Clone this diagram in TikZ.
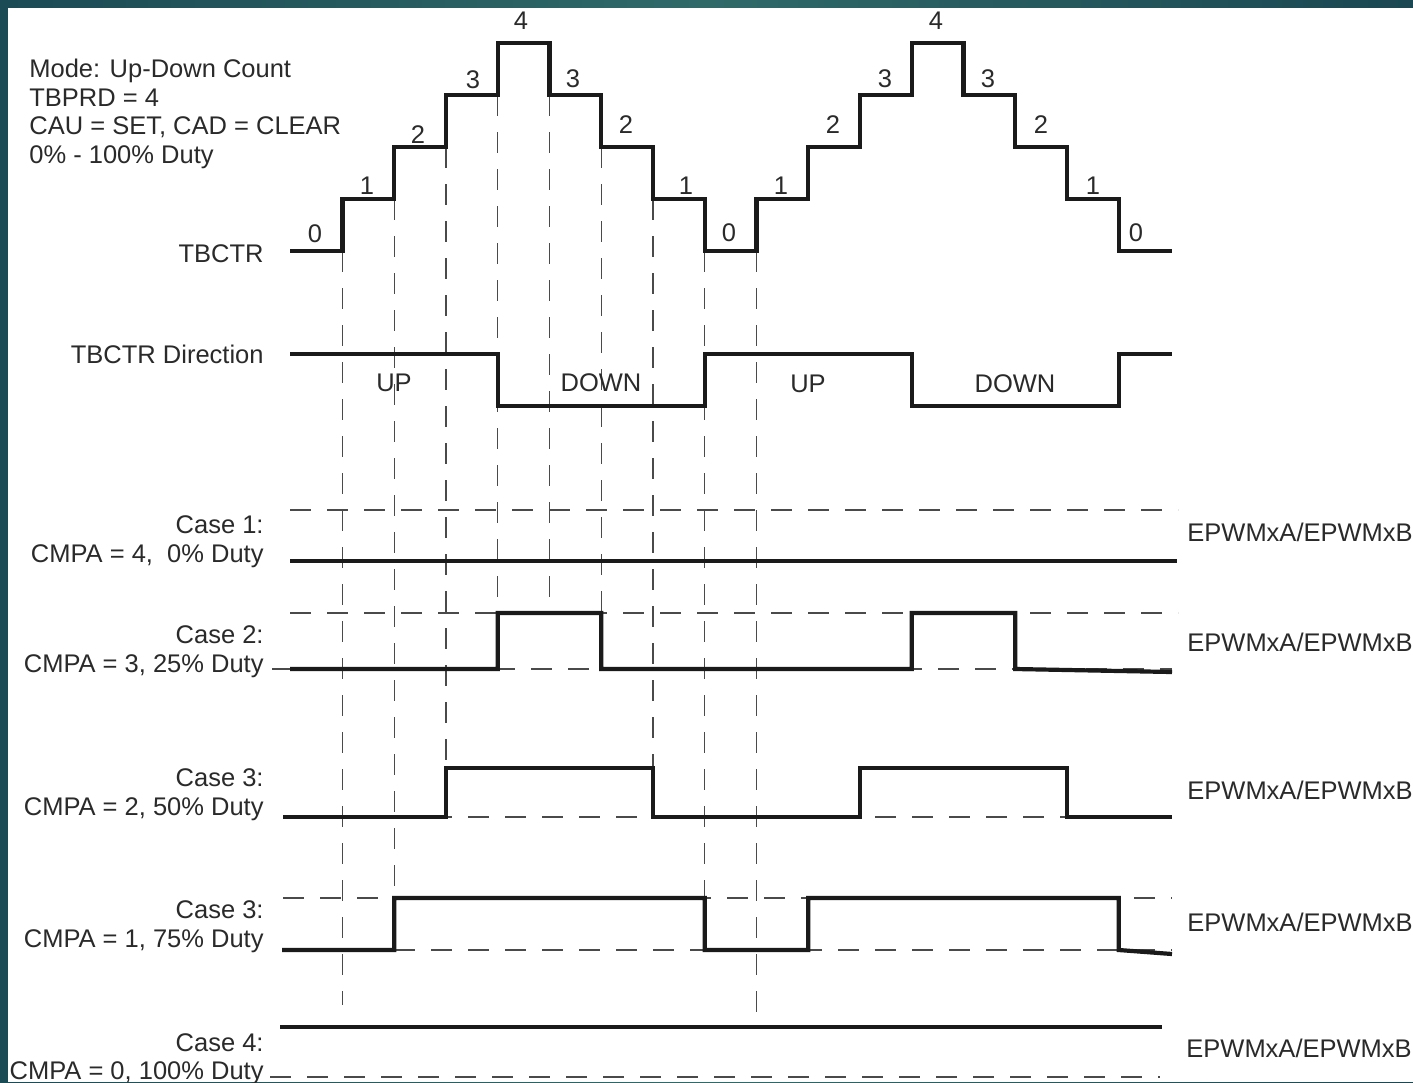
\documentclass[tikz,border=0pt]{standalone}
\usepackage{fontspec}
\setmainfont{Liberation Sans}
\definecolor{ink}{HTML}{1A1A1A}
\definecolor{txt}{HTML}{2A2A2A}
\definecolor{guidegray}{HTML}{4A4A4A}
\definecolor{tealA}{HTML}{1B4B55}
\definecolor{tealB}{HTML}{2F6A69}
\definecolor{tealC}{HTML}{1A4752}
\begin{document}
\begin{tikzpicture}[x=0.5pt,y=-0.5pt,
  wave/.style={line width=2.1pt, draw=ink, line join=miter},
  guide/.style={line width=0.7pt, draw=guidegray, dash pattern=on 10.5pt off 8pt},
  lbl/.style={inner sep=0pt, text=txt, font=\fontsize{12.75pt}{15pt}\selectfont},
  num/.style={lbl, anchor=center},
  rlbl/.style={lbl, anchor=base east},
  llbl/.style={lbl, anchor=base west},
]
\useasboundingbox (0,0) rectangle (1413,1082);
\clip (0,0) rectangle (1413,1082);
\shade[left color=tealA, right color=tealC, middle color=tealB] (0,0) rectangle (1413,1082);
\fill[white] (8,8) rectangle (1413,1082);

% header text
\node[llbl] (mode)  at (29,77)  {Mode: Up-Down Count};
\node[llbl] (prd)   at (29,106) {TBPRD = 4};
\node[llbl] (act)   at (29,134) {CAU = SET, CAD = CLEAR};
\node[llbl] (duty)  at (29,163) {0\% - 100\% Duty};

% vertical guide lines
\draw[guide] (342.5,251) -- (342.5,1005);
\draw[guide] (394.25,199) -- (394.25,898);
\draw[guide] (446,147) -- (446,768);
\draw[guide] (497.75,95) -- (497.75,613);
\draw[guide] (549.5,95) -- (549.5,613);
\draw[guide] (601.25,147) -- (601.25,613);
\draw[guide] (653,199) -- (653,768);
\draw[guide] (704.75,251) -- (704.75,898);
\draw[guide] (756.5,251) -- (756.5,1027);

% horizontal guide lines
\draw[guide] (290,510) -- (1178,510);
\draw[guide] (290,613) -- (1178,613);
\draw[guide] (272,669) -- (1172,669);
\draw[guide] (283,817) -- (1172,817);
\draw[guide] (283,898) -- (1172,898);
\draw[guide] (283,950) -- (1172,950);
\draw[guide] (270,1077) -- (1160,1077);

% TBCTR
\node[rlbl] (tbctr) at (264,262) {TBCTR};
\draw[wave] (290,251) -| (342.5,199) -| (394.25,147) -| (446,95) -| (497.75,43)
  -| (549.5,95) -| (601.25,147) -| (653,199) -| (704.75,251)
  -| (756.5,199) -| (808.25,147) -| (860,95) -| (911.75,43)
  -| (963.5,95) -| (1015.25,147) -| (1067,199) -| (1118.75,251) -- (1172,251);
\node[num] (n0)  at (315,234) {0};
\node[num] (n1)  at (367,186) {1};
\node[num] (n2)  at (418,135) {2};
\node[num] (n3)  at (473,80)  {3};
\node[num] (n4)  at (521,21)  {4};
\node[num] (n5)  at (573,79)  {3};
\node[num] (n6)  at (626,125) {2};
\node[num] (n7)  at (686,186) {1};
\node[num] (n8)  at (729,233) {0};
\node[num] (n9)  at (781,186) {1};
\node[num] (n10) at (833,125) {2};
\node[num] (n11) at (885,79)  {3};
\node[num] (n12) at (936,21)  {4};
\node[num] (n13) at (988,79)  {3};
\node[num] (n14) at (1041,125) {2};
\node[num] (n15) at (1093,186) {1};
\node[num] (n16) at (1136,233) {0};

% Direction
\node[rlbl] (dir) at (264,363) {TBCTR Direction};
\draw[wave] (290,354) -| (497.75,406) -| (704.75,354) -| (911.75,406) -| (1118.75,354) -- (1172,354);
\node[num] (up1)   at (394,383) {UP};
\node[num] (down1) at (601,383) {DOWN};
\node[num] (up2)   at (808,384) {UP};
\node[num] (down2) at (1015,384) {DOWN};

% Case 1
\node[rlbl] (c1a) at (264,533) {Case 1:};
\node[rlbl] (c1b) at (264,562) {CMPA = 4,\ \ 0\% Duty};
\draw[wave] (290,561) -- (1177,561);
\node[llbl] (o1) at (1187,541) {EPWMxA/EPWMxB};

% Case 2
\node[rlbl] (c2a) at (264,643) {Case 2:};
\node[rlbl] (c2b) at (264,672) {CMPA = 3, 25\% Duty};
\draw[wave] (290,669) -| (497.75,613) -| (601.25,669) -| (911.75,613) -| (1015.25,669) -- (1172,672);
\node[llbl] (o2) at (1187,651) {EPWMxA/EPWMxB};

% Case 3 (CMPA = 2)
\node[rlbl] (c3a) at (264,786) {Case 3:};
\node[rlbl] (c3b) at (264,815) {CMPA = 2, 50\% Duty};
\draw[wave] (283,817) -| (446,768) -| (653,817) -| (860,768) -| (1067,817) -- (1172,817);
\node[llbl] (o3) at (1187,799) {EPWMxA/EPWMxB};

% Case 3 (CMPA = 1)
\node[rlbl] (c4a) at (264,918) {Case 3:};
\node[rlbl] (c4b) at (264,947) {CMPA = 1, 75\% Duty};
\draw[wave] (282,950) -| (394.25,898) -| (704.75,950) -| (808.25,898) -| (1118.75,950) -- (1172,954);
\node[llbl] (o4) at (1187,931) {EPWMxA/EPWMxB};

% Case 4
\node[rlbl] (c5a) at (264,1051) {Case 4:};
\node[rlbl] (c5b) at (264,1079) {CMPA = 0, 100\% Duty};
\draw[wave] (280,1027) -- (1162,1027);
\node[llbl] (o5) at (1186,1057) {EPWMxA/EPWMxB};
\end{tikzpicture}
\end{document}
